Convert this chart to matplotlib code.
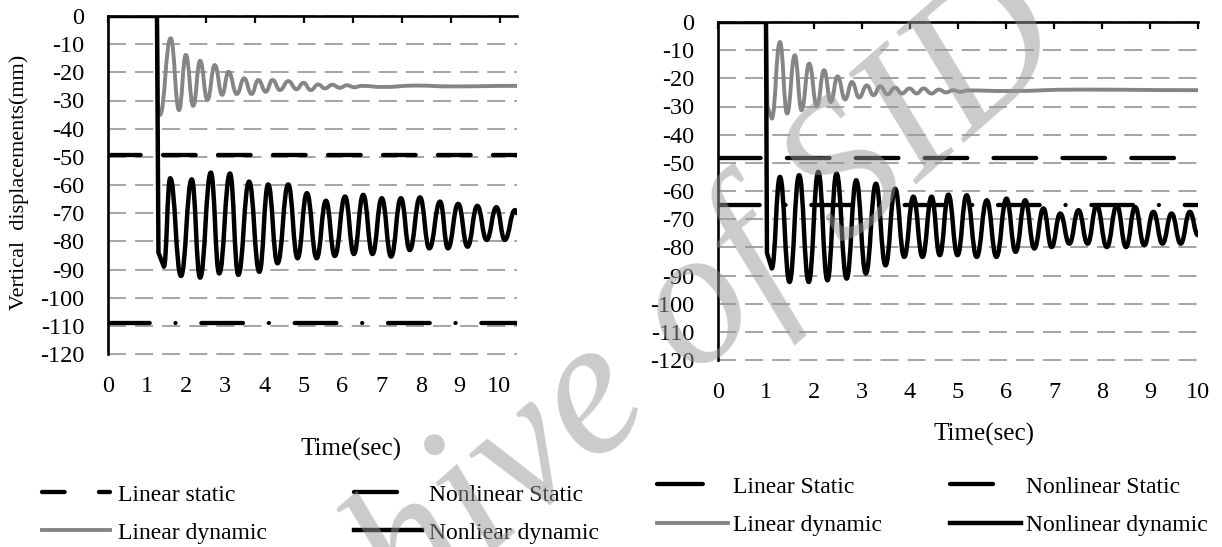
import matplotlib
matplotlib.use("Agg")
import matplotlib.pyplot as plt
from matplotlib.lines import Line2D
from matplotlib.patches import PathPatch
from matplotlib.path import Path


plt.rcParams["font.family"] = ["Liberation Serif", "DejaVu Serif"]
plt.rcParams["lines.scale_dashes"] = False

# ---- values (time in s, displacement in mm) ----
Y_TICKS = list(range(0, -121, -10))
LEFT_X_LABELS = list(range(0, 11))
RIGHT_X_TICKS = list(range(0, 11))

LEFT_LINEAR_STATIC = -49.5
LEFT_NONLINEAR_STATIC = -109.0
RIGHT_LINEAR_STATIC = -48.2
RIGHT_NONLINEAR_STATIC = -65.1

# left panel: first 4 points are the step at load application, rest are extrema
LEFT_LIN_T = [0, 1.0, 1.02, 1.06, 1.28, 1.45, 1.59, 1.74, 1.88, 2.03, 2.18, 2.33,
              2.46, 2.63, 2.78, 2.93, 3.07, 3.22, 3.36, 3.51, 3.68, 3.85, 3.99,
              4.14, 4.29, 4.43, 4.58, 4.73, 4.88, 5.03, 5.18, 5.60, 6.30, 7.00, 8.35]
LEFT_LIN_V = [0, 0, -32.0, -35.1, -7.9, -33.4, -13.8, -31.9, -15.9, -29.8, -17.4, -28.0,
              -19.8, -27.7, -22.1, -27.7, -22.7, -26.9, -22.7, -26.3, -23.1, -26.0, -23.7,
              -26.3, -24.3, -25.7, -24.4, -25.5, -24.6, -25.3, -24.8, -25.2, -24.7, -25.0, -24.8]

LEFT_NL_T = [0, 1.0, 1.03, 1.14, 1.27, 1.49, 1.71, 1.88, 2.10, 2.27, 2.49, 2.66,
             2.88, 3.09, 3.27, 3.46, 3.68, 3.87, 4.06, 4.26, 4.45, 4.63, 4.84,
             5.02, 5.21, 5.40, 5.59, 5.78, 5.98, 6.16, 6.37, 6.56, 6.78, 6.94,
             7.15, 7.34, 7.54, 7.73, 7.93, 8.10, 8.31, 8.35]
LEFT_NL_V = [0, 0, -84.0, -89.0, -57.6, -92.3, -58.0, -92.9, -55.6, -91.4, -55.9, -91.9,
             -58.8, -90.8, -59.8, -87.8, -59.8, -86.0, -62.9, -86.0, -65.6, -85.2, -64.1,
             -84.5, -63.5, -84.5, -64.7, -85.4, -64.7, -83.1, -64.4, -82.5, -65.9, -82.5,
             -66.7, -81.9, -67.4, -79.5, -67.9, -79.5, -68.9, -70.0]

# right panel
RIGHT_LIN_T = [0, 1.0, 1.03, 1.12, 1.29, 1.44, 1.60, 1.74, 1.90, 2.06, 2.21, 2.35,
               2.49, 2.65, 2.79, 2.94, 3.10, 3.24, 3.38, 3.53, 3.69, 3.83, 3.99,
               4.14, 4.28, 4.45, 4.60, 4.75, 4.90, 5.05, 5.20, 6.00, 7.50, 10.0]
RIGHT_LIN_V = [0, 0, -30.0, -34.3, -7.1, -32.5, -11.8, -31.3, -14.8, -29.9, -17.1, -28.4,
               -19.3, -27.5, -21.3, -26.8, -22.5, -26.0, -22.8, -25.7, -23.3, -25.4, -23.6,
               -25.4, -23.6, -25.4, -24.0, -25.0, -24.2, -24.8, -24.3, -24.5, -24.0, -24.2]

RIGHT_NL_T = [0, 1.0, 1.02, 1.12, 1.29, 1.49, 1.69, 1.89, 2.09, 2.28, 2.47, 2.68,
              2.88, 3.08, 3.29, 3.49, 3.69, 3.88, 4.07, 4.26, 4.45, 4.62, 4.80,
              4.99, 5.18, 5.39, 5.60, 5.80, 6.01, 6.20, 6.40, 6.59, 6.78, 6.95,
              7.13, 7.32, 7.51, 7.70, 7.89, 8.10, 8.31, 8.50, 8.69, 8.88, 9.07,
              9.26, 9.45, 9.64, 9.83, 10.0]
RIGHT_NL_V = [0, 0, -82.0, -87.5, -55.0, -92.3, -54.4, -92.3, -53.2, -91.7, -53.8, -91.1,
              -56.2, -89.3, -57.4, -86.4, -59.2, -83.4, -62.0, -83.4, -62.0, -82.8, -61.3,
              -82.8, -61.5, -83.4, -63.3, -83.4, -62.7, -81.6, -63.3, -80.4, -66.2, -79.9,
              -68.0, -78.7, -66.8, -78.7, -65.1, -79.9, -65.1, -79.9, -65.7, -79.3, -67.4,
              -78.7, -68.0, -78.7, -67.4, -75.7]

LEFT_LABELS = ["Linear static", "Linear dynamic", "Nonlinear Static", "Nonliear dynamic"]
RIGHT_LABELS = ["Linear Static", "Linear dynamic", "Nonlinear Static", "Nonlinear dynamic"]
WATERMARK = "Archive of SID"

# left panel's printed time labels are not on the tick grid: 10 labels span 7.98 s
LEFT_SEC_PER_LABEL = 0.798
N_LEAD = 3

GRAY_LINE = "#858585"
GRID = "#8c8c8c"
FS = 17.5
DASH_DOT = (30.0, 18.6, 0.01, 18.6)


def response_path(t, v, n_lead=N_LEAD):
    # straight step, then smooth strokes with flat tangents at every extremum
    verts = [(t[0], v[0])]
    codes = [Path.MOVETO]
    for i in range(1, len(t)):
        if i <= n_lead:
            verts.append((t[i], v[i]))
            codes.append(Path.LINETO)
        else:
            d = 0.45 * (t[i] - t[i - 1])
            verts += [(t[i - 1] + d, v[i - 1]), (t[i] - d, v[i]), (t[i], v[i])]
            codes += [Path.CURVE4] * 3
    return Path(verts, codes)


def style_axes(ax, xmax, top_ticks):
    ax.set_xlim(0, xmax)
    ax.set_ylim(-120, 0)
    for side in ["right", "bottom"]:
        ax.spines[side].set_visible(False)
    for side in ["left", "top"]:
        ax.spines[side].set_linewidth(1.9)
        ax.spines[side].set_zorder(4)
    ax.set_xticks(top_ticks)
    ax.tick_params(axis="x", top=True, bottom=False, direction="in", length=5,
                   width=1.6, labeltop=False, labelbottom=False)
    ax.set_yticks(Y_TICKS)
    ax.set_yticklabels([str(v) for v in Y_TICKS])
    ax.tick_params(axis="y", length=0, pad=17, labelsize=FS)
    ax.set_axisbelow(True)
    ax.grid(axis="y", color=GRID, linewidth=1.1, dashes=(13, 6.5))
    for gl in ax.get_ygridlines():
        gl.set_clip_on(False)


def draw_panel(ax, lin_t, lin_v, nl_t, nl_v, lin_static, nl_static, static_dashes, legend_dashes):
    ax.add_patch(PathPatch(response_path(lin_t, lin_v), fill=False, edgecolor=GRAY_LINE,
                           lw=2.8, capstyle="round", joinstyle="round", zorder=3))
    ax.add_patch(PathPatch(response_path(nl_t, nl_v), fill=False, edgecolor="black",
                           lw=3.2, capstyle="round", joinstyle="round", zorder=3))
    ax.axhline(lin_static, color="black", lw=3.1, dashes=static_dashes,
               dash_capstyle="round", zorder=3)
    ax.axhline(nl_static, color="black", lw=3.1, dashes=DASH_DOT,
               dash_capstyle="round", zorder=3)
    # legend samples (Excel shortens the patterns in its legend keys)
    ls_h = Line2D([], [], color="black", lw=3.1, dashes=legend_dashes, dash_capstyle="round")
    lin_h = Line2D([], [], color=GRAY_LINE, lw=2.8)
    ns_h = Line2D([], [], color="black", lw=3.1, dashes=(31, 40), dash_capstyle="round")
    nl_h = Line2D([], [], color="black", lw=3.2)
    return [ls_h, lin_h, ns_h, nl_h]


fig = plt.figure(figsize=(12.22, 5.47), dpi=100)
W, H = 1222, 547

ax_l = fig.add_axes([108 / W, 1 - 354 / H, 409 / W, 338 / H])
ax_r = fig.add_axes([718 / W, 1 - 360 / H, 480 / W, 338 / H])

style_axes(ax_l, 8.35, list(range(0, 9)))
style_axes(ax_r, 10, RIGHT_X_TICKS)

h_l = draw_panel(ax_l, LEFT_LIN_T, LEFT_LIN_V, LEFT_NL_T, LEFT_NL_V,
                 LEFT_LINEAR_STATIC, LEFT_NONLINEAR_STATIC, (23.5, 16.1), (16.3, 24.7))
h_r = draw_panel(ax_r, RIGHT_LIN_T, RIGHT_LIN_V, RIGHT_NL_T, RIGHT_NL_V,
                 RIGHT_LINEAR_STATIC, RIGHT_NONLINEAR_STATIC, (30.7, 18.9), (33, 40))

# left x labels on their own scale
sec = ax_l.secondary_xaxis("bottom", functions=(lambda t: t / LEFT_SEC_PER_LABEL,
                                                 lambda s: s * LEFT_SEC_PER_LABEL))
sec.set_xticks(LEFT_X_LABELS)
sec.spines["bottom"].set_visible(False)
sec.tick_params(length=0, pad=16, labelsize=FS)

ax_r.tick_params(axis="x", labelbottom=True, pad=16, labelsize=FS)

ax_l.set_xlabel("Time(sec)", fontsize=18)
ax_l.xaxis.set_label_coords(0.594, -0.281)
ax_l.xaxis.label.set_va("center")
ax_r.set_xlabel("Time(sec)", fontsize=18)
ax_r.xaxis.set_label_coords(0.555, -0.219)
ax_r.xaxis.label.set_va("center")

ax_l.set_ylabel("Vertical  displacements(mm)", fontsize=16)
ax_l.yaxis.set_label_coords(-0.218, 0.509)
ax_l.yaxis.label.set_va("center")

ax_l.legend(h_l, LEFT_LABELS, ncol=2, loc="upper left", bbox_to_anchor=(42 / W, 1 - 484 / H),
            bbox_transform=fig.transFigure, frameon=False, borderpad=0, borderaxespad=0,
            handlelength=2.9, handletextpad=0.3, columnspacing=3.7, labelspacing=0.7,
            fontsize=17)
ax_r.legend(h_r, RIGHT_LABELS, ncol=2, loc="upper left", bbox_to_anchor=(657 / W, 1 - 476 / H),
            bbox_transform=fig.transFigure, frameon=False, borderpad=0, borderaxespad=0,
            handlelength=3.0, handletextpad=0.2, columnspacing=2.9, labelspacing=0.72,
            fontsize=17)

# source watermark, drawn over everything
fig.text(208 / W, 1 - 809 / H, WATERMARK, fontsize=140, style="italic", color="#979797",
         alpha=0.5, rotation=41, rotation_mode="anchor", ha="left", va="baseline", zorder=10)

fig.savefig("out.png", dpi=100)
